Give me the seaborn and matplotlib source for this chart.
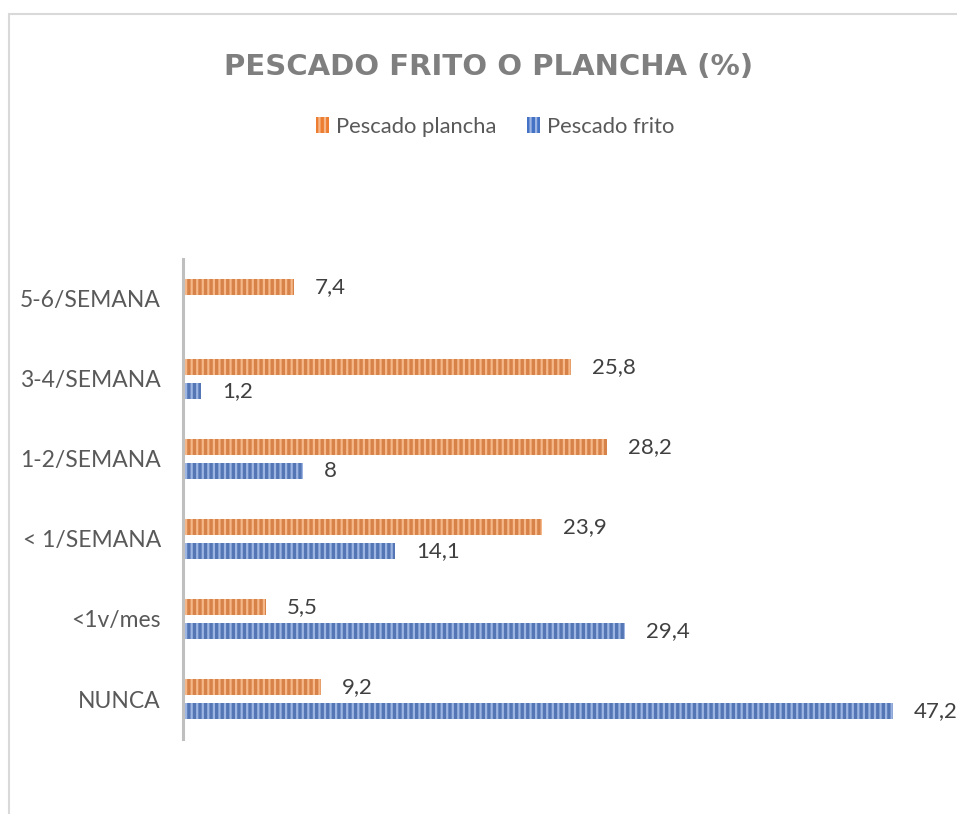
import numpy as np
import pandas as pd
import matplotlib
matplotlib.use("Agg")
import matplotlib.pyplot as plt
from matplotlib.patches import Patch, Rectangle
import seaborn as sns

categories = ["5-6/SEMANA", "3-4/SEMANA", "1-2/SEMANA", "< 1/SEMANA", "<1v/mes", "NUNCA"]
plancha = [7.4, 25.8, 28.2, 23.9, 5.5, 9.2]
frito = [np.nan, 1.2, 8, 14.1, 29.4, 47.2]
series = ["Pescado plancha", "Pescado frito"]
title = "PESCADO FRITO O PLANCHA (%)"

df = pd.DataFrame({
    "Categoria": categories * 2,
    "Serie": [series[0]] * len(categories) + [series[1]] * len(categories),
    "Valor": plancha + frito,
})

sns.set_theme(style="white")
plt.rcParams["font.family"] = ["Lato", "DejaVu Sans"]
plt.rcParams["hatch.linewidth"] = 1.6

face = {series[0]: "#ED7D31", series[1]: "#4472C4"}
stripe = {series[0]: "#F6B789", series[1]: "#9DB5E3"}
txt = "#404040"
txt2 = "#595959"

fig = plt.figure(figsize=(9.57, 8.14), dpi=100)
ax = fig.add_axes([183 / 957, 1 - 739 / 814, (935 - 183) / 957, (739 - 259) / 814])

sns.barplot(data=df, y="Categoria", x="Valor", hue="Serie", hue_order=series,
            order=categories, palette=face, orient="h", width=0.6, gap=0.3,
            ax=ax, legend=False)

for cont, s in zip(ax.containers, series):
    for bar in cont:
        bar.set_hatch("|||")
        bar.set_edgecolor(stripe[s])
        bar.set_linewidth(0)
    labels = []
    for v in cont.datavalues:
        if np.isnan(v):
            labels.append("")
        else:
            labels.append(("%g" % v).replace(".", ","))
    ax.bar_label(cont, labels=labels, padding=15, fontsize=16, color=txt)

ax.set_xlim(0, 50)
ax.set_ylim(len(categories) - 0.5, -0.5)
ax.set_xlabel("")
ax.set_ylabel("")
ax.set_xticks([])
ax.tick_params(axis="y", length=0, labelsize=16.5, labelcolor=txt2, pad=16)
for sp in ["top", "right", "bottom"]:
    ax.spines[sp].set_visible(False)
ax.spines["left"].set_color("#BFBFBF")
ax.spines["left"].set_linewidth(2.2)

handles = [Patch(facecolor=face[s], edgecolor=stripe[s], hatch="|||", linewidth=0, label=s)
           for s in series]
fig.legend(handles=handles, loc="center", bbox_to_anchor=(495 / 957, 1 - 127 / 814),
           ncol=2, frameon=False, fontsize=15.8, labelcolor=txt2, handlelength=0.6,
           handleheight=0.75, handletextpad=0.3, columnspacing=1.4)

fig.text(489 / 957, 1 - 67 / 814, title, ha="center", va="center",
         fontsize=21, fontweight="bold", color="#7F7F7F",
         family=["DejaVu Sans"])

fig.patches.append(Rectangle((9 / 957, -0.05), 1.2, 1 - 14 / 814 + 0.05,
                             transform=fig.transFigure, fill=False,
                             edgecolor="#D9D9D9", linewidth=1.5))

fig.savefig("out.png", dpi=100, facecolor="white")
